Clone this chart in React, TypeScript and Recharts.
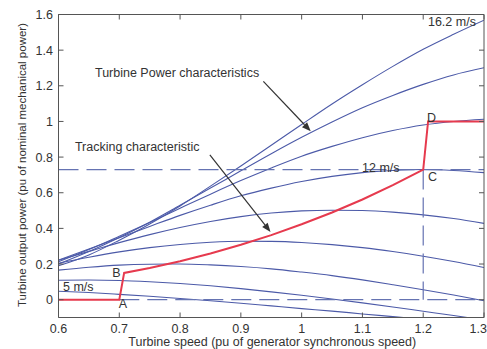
import React from 'react';
import { LineChart, Line, XAxis, YAxis, ReferenceLine, ReferenceDot } from 'recharts';

// Turbine speed (pu) sample points
const speeds = [0.6, 0.65, 0.7, 0.75, 0.8, 0.85, 0.9, 0.95, 1.0, 1.05, 1.1, 1.15, 1.2, 1.25, 1.3];

// Turbine output power (pu) for each wind speed
const p5_0 = [0.047, 0.040, 0.030, 0.019, 0.007, -0.006, -0.020, -0.035, -0.050, -0.064, -0.080, -0.095, -0.110, -0.125, -0.140];
const p6_4 = [0.109, 0.110, 0.108, 0.101, 0.091, 0.078, 0.062, 0.044, 0.025, 0.004, -0.018, -0.041, -0.065, -0.089, -0.114];
const p7_8 = [0.166, 0.182, 0.194, 0.199, 0.200, 0.195, 0.186, 0.173, 0.155, 0.135, 0.111, 0.084, 0.056, 0.026, -0.006];
const p9_2 = [0.204, 0.238, 0.268, 0.292, 0.310, 0.322, 0.328, 0.327, 0.321, 0.309, 0.292, 0.270, 0.244, 0.214, 0.180];
const p10_6 = [0.221, 0.271, 0.320, 0.365, 0.405, 0.439, 0.466, 0.486, 0.498, 0.502, 0.500, 0.491, 0.476, 0.455, 0.428];
const p12_0 = [0.222, 0.284, 0.348, 0.411, 0.473, 0.530, 0.583, 0.626, 0.663, 0.692, 0.713, 0.725, 0.730, 0.725, 0.713];
const p13_4 = [0.213, 0.281, 0.356, 0.433, 0.513, 0.592, 0.668, 0.739, 0.805, 0.860, 0.909, 0.949, 0.980, 1.000, 1.012];
const p14_8 = [0.200, 0.270, 0.349, 0.435, 0.530, 0.626, 0.723, 0.819, 0.911, 0.997, 1.077, 1.146, 1.208, 1.261, 1.301];
const p16_2 = [0.190, 0.251, 0.334, 0.425, 0.526, 0.637, 0.750, 0.866, 0.983, 1.098, 1.206, 1.309, 1.405, 1.489, 1.568];

const seriesKeys = ['w5_0', 'w6_4', 'w7_8', 'w9_2', 'w10_6', 'w12_0', 'w13_4', 'w14_8', 'w16_2'];
const seriesValues = [p5_0, p6_4, p7_8, p9_2, p10_6, p12_0, p13_4, p14_8, p16_2];

// Tracking characteristic A-B-C-D
const trackX = [0.6, 0.7, 0.708, 0.75, 0.8, 0.85, 0.9, 0.95, 1.0, 1.05, 1.1, 1.15, 1.2, 1.208, 1.3];
const trackY = [0, 0, 0.15, 0.178, 0.216, 0.259, 0.308, 0.362, 0.423, 0.489, 0.562, 0.643, 0.73, 1.0, 1.0];

// Key points
const pointA = { x: 0.7, y: 0 };
const pointC = { x: 1.2, y: 0.73 };
const xMax = 1.3;
const xMin = 0.6;

const xTicks = [0.6, 0.7, 0.8, 0.9, 1.0, 1.1, 1.2, 1.3];
const yTicks = [0, 0.2, 0.4, 0.6, 0.8, 1.0, 1.2, 1.4, 1.6];

const annotations = [
  { x: 0.660, y: 1.25, text: 'Turbine Power characteristics', anchor: 'start' },
  { x: 0.627, y: 0.834, text: 'Tracking characteristic', anchor: 'start' },
  { x: 1.2078, y: 1.536, text: '16.2 m/s', anchor: 'start' },
  { x: 1.0993, y: 0.717, text: '12 m/s', anchor: 'start' },
  { x: 0.6074, y: 0.046, text: '5 m/s', anchor: 'start' },
  { x: 0.7061, y: -0.047, text: 'A', anchor: 'middle' },
  { x: 0.6954, y: 0.127, text: 'B', anchor: 'middle' },
  { x: 1.2078, y: 0.666, text: 'C', anchor: 'start' },
  { x: 1.2062, y: 0.997, text: 'D', anchor: 'start' },
];

const arrows = [
  { from: { x: 0.937, y: 1.225 }, to: { x: 1.015, y: 0.945 } },
  { from: { x: 0.849, y: 0.812 }, to: { x: 0.9488, y: 0.38 } },
];

const rows = speeds.map((x, i) => {
  const r: any = { x };
  seriesKeys.forEach((k, j) => (r[k] = seriesValues[j][i]));
  return r;
});
const trackRows = trackX.map((x, i) => ({ x, y: trackY[i] }));

const FONT = 'Liberation Sans, Arial, Helvetica, sans-serif';
const AXIS = '#555';
const TXT = '#333';
const BLUE = '#4c5aa8';
const DASH = '#6573b2';
const RED = '#e63a4e';

const fmt = (v: number) => String(Number(v.toFixed(1)));

const BottomTick = (p: any) => {
  const last = Math.abs(p.payload.value - xMax) < 1e-9;
  return (
    <g>
      <line x1={p.x} y1={p.y} x2={p.x} y2={p.y - 5} stroke={AXIS} />
      <text
        x={last ? p.x + 3 : p.x}
        y={p.y + 15}
        textAnchor={last ? 'end' : 'middle'}
        fontSize={12.5}
        fontFamily={FONT}
        fill={TXT}
      >
        {fmt(p.payload.value)}
      </text>
    </g>
  );
};
const TopTick = (p: any) => <line x1={p.x} y1={p.y} x2={p.x} y2={p.y + 5} stroke={AXIS} />;
const LeftTick = (p: any) => (
  <g>
    <line x1={p.x} y1={p.y} x2={p.x + 5} y2={p.y} stroke={AXIS} />
    <text x={p.x - 5.5} y={p.y + 4.5} textAnchor="end" fontSize={12.5} fontFamily={FONT} fill={TXT}>
      {fmt(p.payload.value)}
    </text>
  </g>
);
const RightTick = (p: any) => <line x1={p.x} y1={p.y} x2={p.x - 5} y2={p.y} stroke={AXIS} />;

const Arrow = (p: any) => {
  const { x1, y1, x2, y2 } = p;
  const ang = Math.atan2(y2 - y1, x2 - x1);
  const L = 9;
  const W = 3.5;
  const bx = x2 - L * Math.cos(ang);
  const by = y2 - L * Math.sin(ang);
  const ox = -Math.sin(ang) * W;
  const oy = Math.cos(ang) * W;
  return (
    <g>
      <line x1={x1} y1={y1} x2={bx} y2={by} stroke="#333" strokeWidth={1.2} />
      <polygon points={`${x2},${y2} ${bx + ox},${by + oy} ${bx - ox},${by - oy}`} fill="#333" />
    </g>
  );
};

const XTitle = (p: any) => {
  const vb = p.viewBox || { x: 58.5, width: 425.5 };
  return (
    <text x={vb.x + vb.width / 2 + 1} y={346} textAnchor="middle" fontSize={12.5} fontFamily={FONT} fill={TXT}>
      Turbine speed (pu of generator synchronous speed)
    </text>
  );
};
const YTitle = () => (
  <text x={26} y={165} transform="rotate(-90 26 165)" textAnchor="middle" fontSize={11.5} fontFamily={FONT} fill={TXT}>
    Turbine output power (pu of nominal mechanical power)
  </text>
);

export default function App() {
  return (
    <div style={{ position: 'absolute', left: 0, top: 0, width: 487, height: 349, background: '#fff' }}>
      <LineChart width={487} height={349} data={rows} margin={{ top: 0, right: 0, bottom: 0, left: 0 }}>
        <XAxis
          dataKey="x"
          type="number"
          domain={[xMin, xMax]}
          ticks={xTicks}
          interval={0}
          allowDataOverflow
          height={31.5}
          tickSize={0}
          tickMargin={0}
          tickLine={false}
          tick={<BottomTick />}
          axisLine={{ stroke: AXIS }}
          label={{ content: <XTitle /> }}
        />
        <XAxis
          xAxisId="top"
          orientation="top"
          dataKey="x"
          type="number"
          domain={[xMin, xMax]}
          ticks={xTicks}
          interval={0}
          allowDataOverflow
          height={14.5}
          tickSize={0}
          tickMargin={0}
          tickLine={false}
          tick={<TopTick />}
          axisLine={{ stroke: AXIS }}
        />
        <YAxis
          type="number"
          domain={[-0.1, 1.6]}
          ticks={yTicks}
          interval={0}
          allowDataOverflow
          width={58.5}
          tickSize={0}
          tickMargin={0}
          tickLine={false}
          tick={<LeftTick />}
          axisLine={{ stroke: AXIS }}
          label={{ content: <YTitle /> }}
        />
        <YAxis
          yAxisId="right"
          orientation="right"
          type="number"
          domain={[-0.1, 1.6]}
          ticks={yTicks}
          interval={0}
          allowDataOverflow
          width={3}
          tickSize={0}
          tickMargin={0}
          tickLine={false}
          tick={<RightTick />}
          axisLine={{ stroke: AXIS }}
        />
        {seriesKeys.map((k) => (
          <Line
            key={k}
            dataKey={k}
            type="monotone"
            stroke={BLUE}
            strokeWidth={1.1}
            dot={false}
            activeDot={false}
            isAnimationActive={false}
          />
        ))}
        <ReferenceLine y={pointC.y} stroke={DASH} strokeWidth={1.2} strokeDasharray="20 8" />
        <ReferenceLine
          segment={[{ x: pointA.x, y: 0 }, { x: xMax, y: 0 }]}
          stroke={DASH}
          strokeWidth={1.2}
          strokeDasharray="20 8"
        />
        <ReferenceLine
          segment={[{ x: pointC.x, y: pointC.y }, { x: pointC.x, y: 0 }]}
          stroke={DASH}
          strokeWidth={1.2}
          strokeDasharray="20 8"
        />
        <Line
          data={trackRows}
          dataKey="y"
          type="linear"
          stroke={RED}
          strokeWidth={2}
          dot={false}
          activeDot={false}
          isAnimationActive={false}
        />
        {arrows.map((a, i) => (
          <ReferenceLine key={'ar' + i} segment={[a.from, a.to]} shape={(p: any) => <Arrow {...p} />} />
        ))}
        {annotations.map((a, i) => (
          <ReferenceDot
            key={'an' + i}
            x={a.x}
            y={a.y}
            r={0}
            shape={(p: any) => (
              <text x={p.cx} y={p.cy} textAnchor={a.anchor as any} fontSize={12.5} fontFamily={FONT} fill={TXT}>
                {a.text}
              </text>
            )}
          />
        ))}
      </LineChart>
    </div>
  );
}
